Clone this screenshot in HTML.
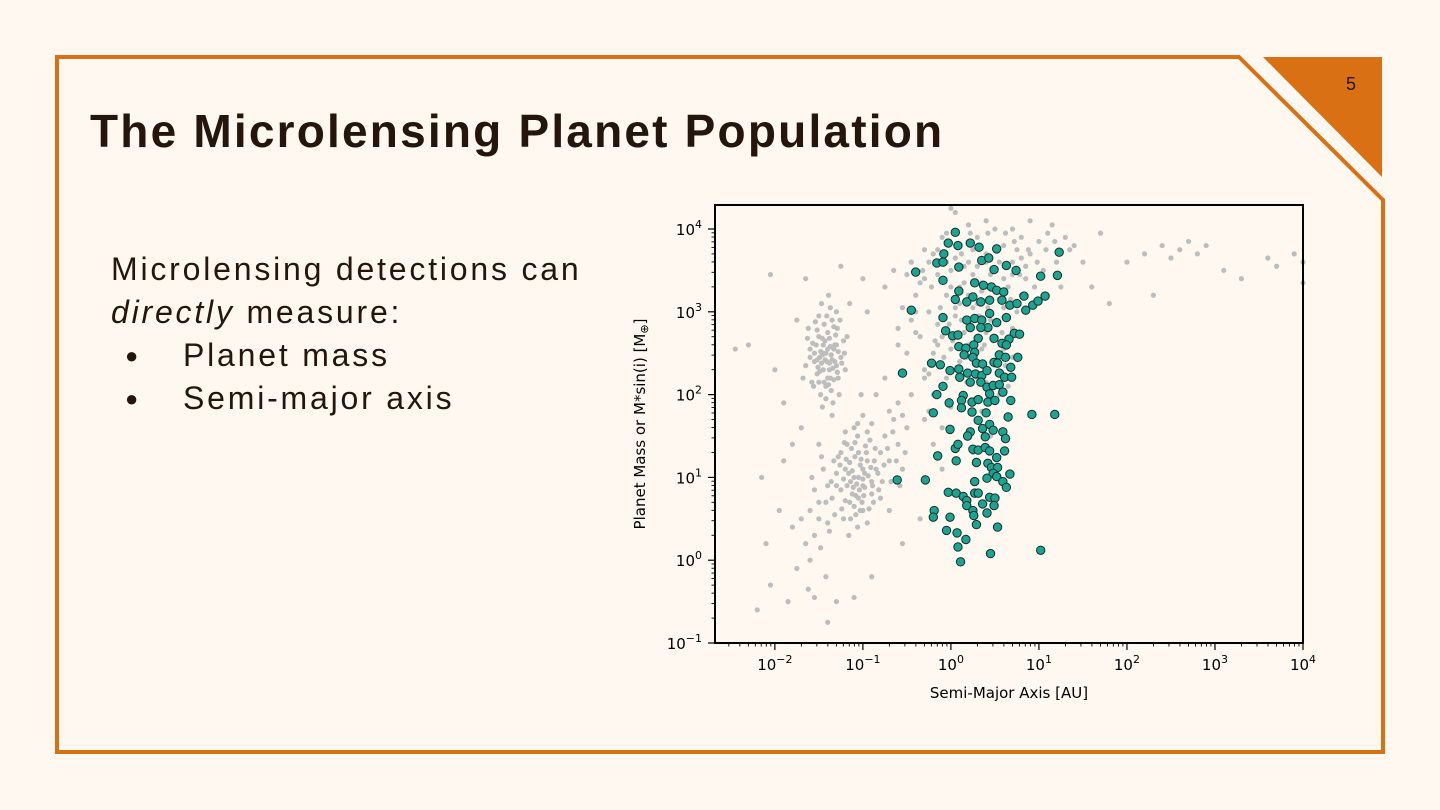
<!DOCTYPE html>
<html><head><meta charset="utf-8"><style>
html,body{margin:0;padding:0;background:#fef8f0;}
body{width:1440px;height:810px;position:relative;overflow:hidden;font-family:"Liberation Sans","DejaVu Sans",sans-serif;color:#24160c;}
#title{position:absolute;left:90px;top:104px;font-size:46px;font-weight:bold;margin:0;letter-spacing:2.2px;}
#body{position:absolute;left:111px;top:248px;font-size:32px;line-height:43px;letter-spacing:2.8px;}
.bl{position:relative;padding-left:72px;}
.bl:before{content:"●";position:absolute;left:14px;font-size:22px;}
</style></head><body>
<svg width="1440" height="810" style="position:absolute;left:0;top:0">
<polygon points="57,57 1239,57 1383,200 1383,752 57,752" fill="none" stroke="#d97014" stroke-width="4"/>
<polygon points="1263,57 1382,57 1382,177" fill="#d97014"/>
<text x="1351" y="90" font-size="18" text-anchor="middle" fill="#24160c" font-family="Liberation Sans, sans-serif">5</text>
</svg>
<h1 id="title">The Microlensing Planet Population</h1>
<div id="body">
<div>Microlensing detections can</div>
<div><i>directly</i> measure:</div>
<div class="bl">Planet mass</div>
<div class="bl">Semi-major axis</div>
</div>
<svg id="chart" width="1440" height="810" style="position:absolute;left:0;top:0"></svg>
<script>
// log10 values
const grayLogA=[-1.45,-1.38,-1.5,-1.32,-1.42,-1.55,-1.28,-1.35,-1.48,-1.4,-1.6,-1.25,-1.52,-1.36,-1.44,-1.3,-1.58,-1.22,-1.47,-1.34,-1.65,-1.41,-1.29,-1.53,-1.37,-1.2,-1.62,-1.46,-1.33,-1.5,-1.27,-1.43,-1.56,-1.39,-1.18,-1.68,-1.3,-1.49,-1.35,-1.45,
-1.1,-1.0,-1.2,-0.95,-1.15,-1.05,-0.9,-1.25,-1.08,-0.85,-1.3,-1.18,-1.0,-0.92,-1.12,-1.22,-0.8,-1.35,-1.03,-0.88,-1.28,-1.14,-0.98,-1.06,-1.4,-0.75,-1.2,-0.95,-1.1,-0.82,-1.32,-1.0,-0.7,-1.45,-1.16,-0.9,-1.25,-1.05,-0.78,-1.38,-0.6,-0.65,-0.55,-0.7,-1.5,-1.55,-1.6,-1.48,-1.7,-1.42,-1.75,-1.8,-1.62,-1.58,-0.85,-0.6,-0.5,-0.45,-0.75,-1.02,
-2.1,-2.05,-1.95,-1.85,-2.2,-1.9,-2.3,-2.45,-1.75,-1.65,-1.25,-1.0,-0.75,-0.6,-1.7,-1.9,-2.0,-1.55,-1.3,-1.1,-0.9,-0.55,-0.35,-0.3,-0.2,-0.5,-0.4,-0.3,-2.15,-1.8,-0.95,-1.15,-0.65,-0.45,-2.05,-1.4,-1.5,-0.25,-0.15,-0.1,
-0.4,-0.3,-0.2,-0.1,0.0,0.1,0.2,0.3,0.4,0.5,0.6,0.7,0.8,0.9,1.0,1.1,1.2,1.3,1.4,0.95,1.05,-0.35,-0.25,-0.15,-0.05,0.05,0.15,0.25,0.35,0.45,0.55,0.65,0.75,0.85,-0.45,-0.2,-0.1,0.1,0.2,0.3,0.4,0.5,0.6,0.7,-0.3,-0.05,0.15,0.35,0.55,0.45,0.25,-0.1,-0.2,0.0,0.1,0.3,0.6,0.8,0.05,0.2,0.4,0.7,0.9,1.15,1.35,1.25,-0.3,-0.5,-0.55,-0.6,0.5,0.85,0.15,-0.15,0.35,0.65,0.45,0.25,0.75,0.0,-0.25,
2.0,2.2,2.4,2.5,2.6,2.7,2.8,2.9,3.1,3.3,3.6,3.7,3.9,4.0,4.0,2.3,1.6,1.8,1.5,1.7,0.0,
-1.43,-1.37,-1.51,-1.33,-1.46,-1.39,-1.55,-1.28,-1.41,-1.49,-1.36,-1.31,-1.57,-1.24,-1.44,-1.4,-1.47,-1.34,-1.52,-1.38,-1.26,-1.42,-1.6,-1.3,-1.45,-1.35,-1.48,-1.4,-1.5,-1.33,-1.21,-1.63,-1.37,-1.54,-1.29,-1.42,-1.38,-1.46,-1.32,-1.52,
-1.05,-1.12,-0.98,-1.08,-0.94,-1.18,-1.02,-0.9,-1.15,-1.22,-1.0,-1.07,-0.96,-1.1,-1.2,-0.87,-1.13,-1.04,-0.93,-1.26,-0.83,-0.97,-1.16,-1.09,-1.01,-0.89,-1.24,-1.3,-0.8,-1.06,-1.14,-0.91,-1.0,-1.11,-1.19,-0.86,-0.99,-1.21,-1.33,-0.76,-1.03,-1.09,-0.72,-0.68,-0.62,-0.58,-0.52,-0.66,-1.36,-1.42,-1.5,-1.47,-1.6,-1.55,-1.65,-1.4,-0.95,-1.06,-0.7,-0.55,
0.1,0.2,0.3,0.15,0.25,0.35,0.4,-0.05,0.0,0.05,0.12,0.22,0.32,0.42,0.5,0.55,0.6,0.7,0.8,-0.12,-0.22,-0.32,-0.4,-0.18,-0.08,0.02,0.08,0.18,0.28,0.38,0.48,0.58,0.68,0.78,0.88,0.98,1.08,1.18,0.05,-0.02,0.12,0.22,0.32,0.42,0.52,0.62,0.72,-0.05,-0.15,-0.25,-0.35,-0.45,0.18,0.28,-0.12,-0.3,0.4,0.62,0.7,1.0];
const grayLogM=[2.5,2.3,2.7,2.6,2.1,2.4,2.2,2.9,2.0,2.75,2.55,2.45,2.25,2.05,2.85,3.0,2.15,2.65,3.1,1.9,2.35,2.4,2.8,2.6,2.2,2.3,2.8,1.85,2.55,2.95,2.0,2.65,2.1,3.2,2.7,2.2,2.35,2.45,1.75,2.3,
1.0,0.9,1.1,1.2,0.7,1.3,0.95,0.85,0.55,1.1,1.05,1.4,0.6,1.45,0.8,0.5,1.3,0.75,1.15,0.7,1.25,0.95,1.05,0.4,0.9,1.5,1.55,0.45,1.6,0.85,0.55,1.75,1.2,1.1,0.3,1.65,1.3,0.75,0.95,0.35,1.4,1.7,1.1,0.6,0.7,0.3,0.0,0.15,0.5,-0.2,-0.1,0.4,-0.35,1.0,2.0,1.9,1.6,2.0,2.2,2.0,
0.2,-0.3,0.6,-0.5,-0.6,1.2,2.6,2.55,2.9,3.4,3.55,3.4,3.3,2.8,1.6,1.9,2.3,-0.45,-0.5,-0.45,-0.2,0.2,0.5,1.0,1.4,2.5,3.0,2.2,1.0,1.4,3.0,3.1,3.5,3.6,3.45,-0.75,1.4,1.8,2.6,1.1,
3.2,3.4,3.7,3.9,3.5,3.8,3.6,3.9,3.7,3.5,3.8,3.6,3.9,3.7,3.85,3.95,3.6,3.9,3.8,3.3,3.5,2.7,3.0,2.85,3.2,2.95,3.35,3.05,3.25,2.9,3.15,3.3,3.0,3.4,2.9,2.5,2.7,2.4,2.6,2.2,2.75,2.35,2.55,2.8,2.3,2.2,2.0,1.8,2.0,1.5,1.3,1.6,2.0,1.85,3.1,3.55,3.4,3.2,4.2,4.05,4.1,4.0,4.1,4.05,3.75,3.3,3.75,3.45,3.05,2.6,4.0,3.55,2.75,3.45,2.55,2.1,3.45,3.75,3.75,2.55,2.25,
3.6,3.7,3.8,3.65,3.75,3.85,3.7,3.8,3.5,3.4,3.65,3.55,3.7,3.6,3.35,3.2,3.3,3.1,3.6,3.95,4.25,
2.42,2.58,2.33,2.18,2.68,2.12,2.5,2.52,2.95,2.28,2.48,2.72,2.62,2.38,2.15,2.55,2.38,2.32,2.78,2.68,2.9,1.95,2.45,2.6,2.6,2.42,2.52,2.2,2.15,2.82,2.5,2.68,3.05,2.88,2.27,2.5,2.38,2.48,2.4,2.42,
1.0,1.08,0.88,0.78,1.02,0.9,1.22,0.8,1.18,0.98,1.1,0.92,1.3,0.65,0.72,1.2,1.35,0.85,0.62,1.15,1.05,1.38,1.05,1.25,0.7,0.9,0.62,0.9,0.75,1.5,0.5,1.12,0.98,0.88,1.22,1.35,0.78,1.42,1.2,1.15,0.6,1.42,1.35,0.95,1.2,0.9,1.3,1.55,0.95,0.7,0.5,1.25,0.6,0.85,0.2,0.45,1.55,1.65,1.8,1.75,
3.3,3.2,3.1,3.55,3.45,3.35,3.6,3.6,3.3,3.65,2.9,2.85,2.95,3.05,3.25,3.6,3.05,3.45,3.65,3.05,3.3,3.5,2.75,2.65,2.45,2.65,2.3,2.45,2.4,2.6,2.65,2.75,3.15,3.45,3.75,3.6,3.75,3.85,3.05,2.85,3.7,3.95,3.75,3.95,3.75,3.95,3.85,3.95,3.75,3.6,3.35,3.6,2.15,1.95,2.35,1.7,2.15,2.35,2.45,3.45];
const tealLogA=[0.05,-0.03,0.08,0.22,0.32,0.52,1.23,-0.08,-0.16,-0.09,-0.40,0.09,0.35,0.43,0.49,0.63,0.74,1.02,1.21,-0.09,0.27,0.37,0.46,0.52,0.60,0.09,0.05,0.18,0.25,0.34,0.44,0.58,0.67,0.75,0.83,0.85,0.93,0.99,1.07,-0.45,-0.09,0.18,0.27,0.35,0.44,0.42,0.52,0.63,0.22,0.34,-0.06,0.02,0.08,0.31,0.49,0.72,0.78,0.66,0.09,0.17,0.26,0.58,0.63,0.27,0.15,0.25,0.55,0.62,0.76,-0.22,-0.12,0.29,0.36,0.49,0.53,0.68,-0.55,-0.01,0.09,0.19,0.28,0.35,0.41,0.10,0.22,0.34,0.55,0.61,0.69,0.41,0.48,0.55,-0.09,-0.16,0.14,0.44,0.59,-0.02,0.12,0.24,0.31,0.42,0.50,0.68,0.12,0.24,0.40,-0.20,0.92,1.18,0.65,0.31,0.36,0.44,0.48,-0.01,0.22,0.19,0.59,0.62,0.39,0.05,0.08,0.25,0.31,0.39,0.44,0.52,0.61,-0.15,0.06,0.29,0.42,0.46,0.53,0.48,0.52,0.67,-0.29,0.27,0.41,0.59,0.63,-0.03,0.06,0.14,0.27,0.31,0.18,0.44,0.50,0.36,0.49,0.18,0.25,0.26,0.41,-0.19,-0.20,-0.01,0.29,0.53,-0.05,0.07,0.17,0.08,0.11,0.45,1.02,-0.61];
const tealLogM=[3.96,3.83,3.80,3.83,3.78,3.76,3.72,3.70,3.59,3.60,3.48,3.54,3.62,3.65,3.51,3.56,3.50,3.43,3.44,3.38,3.35,3.32,3.30,3.26,3.24,3.25,3.15,3.12,3.18,3.12,3.14,3.14,3.08,3.10,3.19,3.02,3.08,3.13,3.19,3.02,2.93,2.90,2.92,2.90,2.98,2.81,2.87,2.93,2.81,2.81,2.77,2.71,2.72,2.68,2.68,2.74,2.73,2.67,2.58,2.56,2.60,2.62,2.60,2.51,2.48,2.45,2.48,2.45,2.45,2.38,2.36,2.38,2.37,2.39,2.38,2.33,2.26,2.29,2.31,2.26,2.25,2.23,2.29,2.21,2.15,2.15,2.26,2.21,2.21,2.09,2.11,2.12,2.10,2.00,1.99,2.01,2.03,1.90,1.93,1.91,1.94,1.91,1.93,1.93,1.84,1.79,1.78,1.78,1.76,1.76,1.73,1.69,1.59,1.64,1.57,1.58,1.55,1.50,1.55,1.47,1.49,1.35,1.40,1.34,1.33,1.36,1.32,1.24,1.32,1.26,1.20,1.18,1.17,1.12,1.12,1.05,1.01,1.04,0.97,0.95,0.99,0.95,0.88,0.82,0.81,0.77,0.81,0.81,0.72,0.76,0.75,0.68,0.66,0.66,0.60,0.54,0.57,0.60,0.52,0.52,0.43,0.40,0.36,0.33,0.25,0.16,-0.02,0.08,0.12,0.97];
const xTickExps=[-2,-1,0,1,2,3,4];
const yTickExps=[-1,0,1,2,3,4];

const svg=document.getElementById('chart');
const NS='http://www.w3.org/2000/svg';
const L=715,R=1303,T=205,B=643;
const X0=-2.68,X1=4.0,Y0=-1.0,Y1=4.29;
function sx(v){return L+(v-X0)/(X1-X0)*(R-L);}
function sy(v){return B-(v-Y0)/(Y1-Y0)*(B-T);}
function mk(tag,attrs){const e=document.createElementNS(NS,tag);for(const k in attrs)e.setAttribute(k,attrs[k]);svg.appendChild(e);return e;}

const clip=mk('clipPath',{id:'pc'});
const cr=document.createElementNS(NS,'rect');cr.setAttribute('x',L-3);cr.setAttribute('y',T-8);cr.setAttribute('width',R-L+6);cr.setAttribute('height',B-T+8);clip.appendChild(cr);
const gGray=mk('g',{'clip-path':'url(#pc)'});


for(let i=0;i<grayLogA.length;i++){
  const c=document.createElementNS(NS,'circle');
  c.setAttribute('cx',sx(grayLogA[i]));c.setAttribute('cy',sy(grayLogM[i]));c.setAttribute('r',2.6);c.setAttribute('fill','#bdbdbd');
  
  
  gGray.appendChild(c);
}
const gTeal=mk('g',{});


for(let i=0;i<tealLogA.length;i++){
  const c=document.createElementNS(NS,'circle');
  c.setAttribute('cx',sx(tealLogA[i]));c.setAttribute('cy',sy(tealLogM[i]));c.setAttribute('r',4.2);c.setAttribute('fill','#1ca391');c.setAttribute('stroke','#10302a');c.setAttribute('stroke-width','1');
  
  
  gTeal.appendChild(c);
}
const frame=mk('rect',{x:L,y:T,width:R-L,height:B-T,fill:'none',stroke:'#000','stroke-width':2});


for(let e=-3;e<4;e++){for(let m=2;m<10;m++){const v=e+Math.log10(m);if(v<X0||v>X1)continue;const t=mk('line',{x1:sx(v),x2:sx(v),y1:B,y2:B+3.5,stroke:'#000','stroke-width':0.9});}}
xTickExps.forEach(e=>{
  const t=mk('line',{x1:sx(e),x2:sx(e),y1:B,y2:B+7,stroke:'#000','stroke-width':1.2});
  
  const tx=mk('text',{x:sx(e),y:B+27,'font-size':15,'text-anchor':'middle','font-family':'DejaVu Sans, sans-serif',fill:'#000'});
  tx.innerHTML='10<tspan dy="-7" font-size="11">'+(e<0?'\u2212'+(-e):e)+'</tspan>';
  
});
for(let e=-1;e<5;e++){for(let m=2;m<10;m++){const v=e+Math.log10(m);if(v<Y0||v>Y1)continue;const t=mk('line',{x1:L-3.5,x2:L,y1:sy(v),y2:sy(v),stroke:'#000','stroke-width':0.9});}}
yTickExps.forEach(e=>{
  const t=mk('line',{x1:L-7,x2:L,y1:sy(e),y2:sy(e),stroke:'#000','stroke-width':1.2});
  
  const tx=mk('text',{x:L-13,y:sy(e)+6,'font-size':15,'text-anchor':'end','font-family':'DejaVu Sans, sans-serif',fill:'#000'});
  tx.innerHTML='10<tspan dy="-7" font-size="11">'+(e<0?'\u2212'+(-e):e)+'</tspan>';
  
});
const xl=mk('text',{x:(L+R)/2,y:698,'font-size':15,'text-anchor':'middle','font-family':'DejaVu Sans, sans-serif',fill:'#000'});
xl.textContent='Semi-Major Axis [AU]';

const yl=mk('text',{x:0,y:0,'font-size':15,'text-anchor':'middle','font-family':'DejaVu Sans, sans-serif',fill:'#000',transform:'translate(645,424) rotate(-90)'});
yl.innerHTML='Planet Mass or M*sin(i) [M<tspan dy="3" font-size="11">\u2295</tspan><tspan dy="-3">]</tspan>';

</script>
</body></html>
